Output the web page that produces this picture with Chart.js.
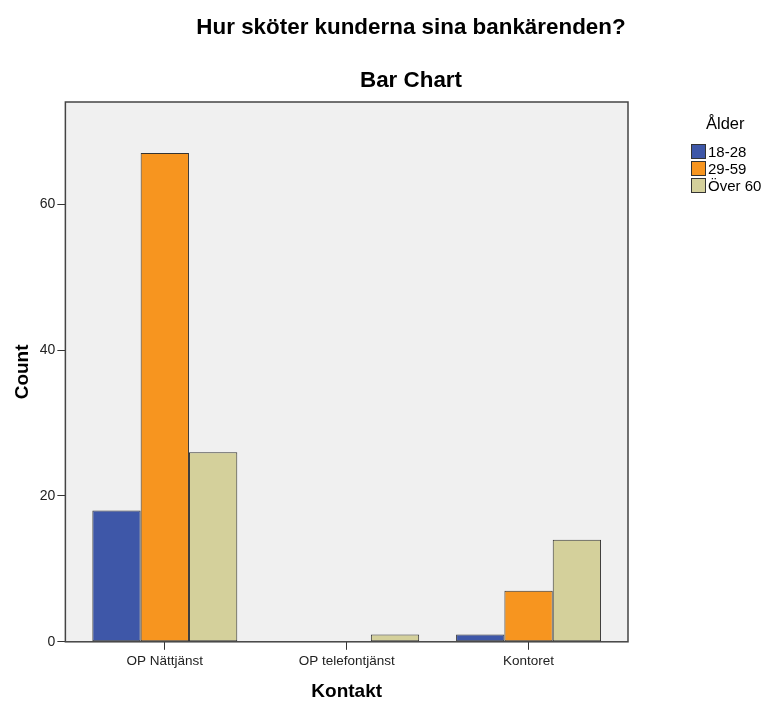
<!DOCTYPE html>
<html>
<head>
<meta charset="utf-8">
<script src="https://cdn.jsdelivr.net/npm/chart.js@4"></script>
<style>
  body { margin: 0; background: #fff; font-family: "Liberation Sans", Arial, sans-serif; }
  #wrap { position: relative; width: 763px; height: 701px; }
  .title { position: absolute; left: 60px; width: 702px; text-align: center; font-weight: bold; color: #000; }
  #legend { position: absolute; left: 691px; top: 114px; font-size: 15px; color: #000; }
  #legend .head { font-size: 16.5px; margin: 0 0 10px 15px; }
  #legend .item { display: flex; align-items: center; height: 17px; }
  #legend .box { width: 13px; height: 13px; border: 1px solid #333; margin-right: 2px; }
</style>
</head>
<body>
<div id="wrap">
  <canvas id="barChart" width="763" height="701"></canvas>
  <div class="title" style="top:14px;font-size:22.4px;">Hur sköter kunderna sina bankärenden?</div>
  <div class="title" style="top:67px;font-size:22.4px;">Bar Chart</div>
  <div id="legend"></div>
</div>
<script>
// Data
const categories = ['OP Nättjänst', 'OP telefontjänst', 'Kontoret'];
const groups = ['18-28', '29-59', 'Över 60'];
const age1828 = [18, 0, 1];
const age2959 = [67, 0, 7];
const ageOver60 = [26, 1, 14];
const colors = ['#3e57a8', '#f7951f', '#d4d09b'];

// HTML legend
const legendEl = document.getElementById('legend');
legendEl.innerHTML = '<div class="head">Ålder</div>' + groups.map((g, i) =>
    '<div class="item"><span class="box" style="background:' + colors[i] + '"></span>' + g + '</div>'
).join('');

// Plot area background + frame
const frame = {
    id: 'frame',
    afterLayout(chart) {
        // SPSS leaves a bit of extra room between the frame and the outer categories
        const x = chart.scales.x;
        x.left += 8.5;
        x.right -= 8.5;
        x.width = x.right - x.left;
        x.configure();
    },
    beforeDatasetsDraw(chart) {
        const { ctx, chartArea: a } = chart;
        ctx.save();
        ctx.fillStyle = '#f0f0f0';
        ctx.fillRect(a.left, a.top, a.right - a.left, a.bottom - a.top);
        ctx.strokeStyle = '#444';
        ctx.lineWidth = 1.5;
        ctx.strokeRect(a.left, a.top, a.right - a.left, a.bottom - a.top);
        ctx.restore();
    }
};

const tickGrid = { drawOnChartArea: false, drawTicks: true, tickLength: 8, color: '#333', lineWidth: 1 };

const ctxBar = document.getElementById('barChart').getContext('2d');
new Chart(ctxBar, {
    type: 'bar',
    data: {
        labels: categories,
        datasets: [age1828, age2959, ageOver60].map((d, i) => ({
            label: groups[i],
            data: d,
            backgroundColor: colors[i],
            borderColor: '#333',
            borderWidth: 1,
            borderSkipped: false,
            categoryPercentage: 0.797,
            barPercentage: 1.0
        }))
    },
    options: {
        responsive: false,
        animation: false,
        layout: { padding: { top: 102, right: 135, left: 7, bottom: 0 } },
        plugins: {
            legend: { display: false },
            tooltip: { enabled: false }
        },
        scales: {
            x: {
                grid: { ...tickGrid, offset: false },
                border: { display: false },
                ticks: { font: { family: 'Liberation Sans', size: 13.5 }, color: '#222', padding: 3 },
                title: { display: true, text: 'Kontakt', font: { family: 'Liberation Sans', size: 19, weight: 'bold', lineHeight: 1 }, color: '#000', padding: { top: 10, bottom: 0 } }
            },
            y: {
                min: 0,
                max: 74,
                grid: tickGrid,
                border: { display: false },
                afterBuildTicks: (axis) => { axis.ticks = axis.ticks.filter(t => t.value % 20 === 0); },
                ticks: { stepSize: 20, font: { family: 'Liberation Sans', size: 14 }, color: '#222', padding: 2 },
                title: { display: true, text: 'Count', font: { family: 'Liberation Sans', size: 19, weight: 'bold' }, color: '#000', padding: { bottom: 4 } }
            }
        }
    },
    plugins: [frame]
});
</script>
</body>
</html>
